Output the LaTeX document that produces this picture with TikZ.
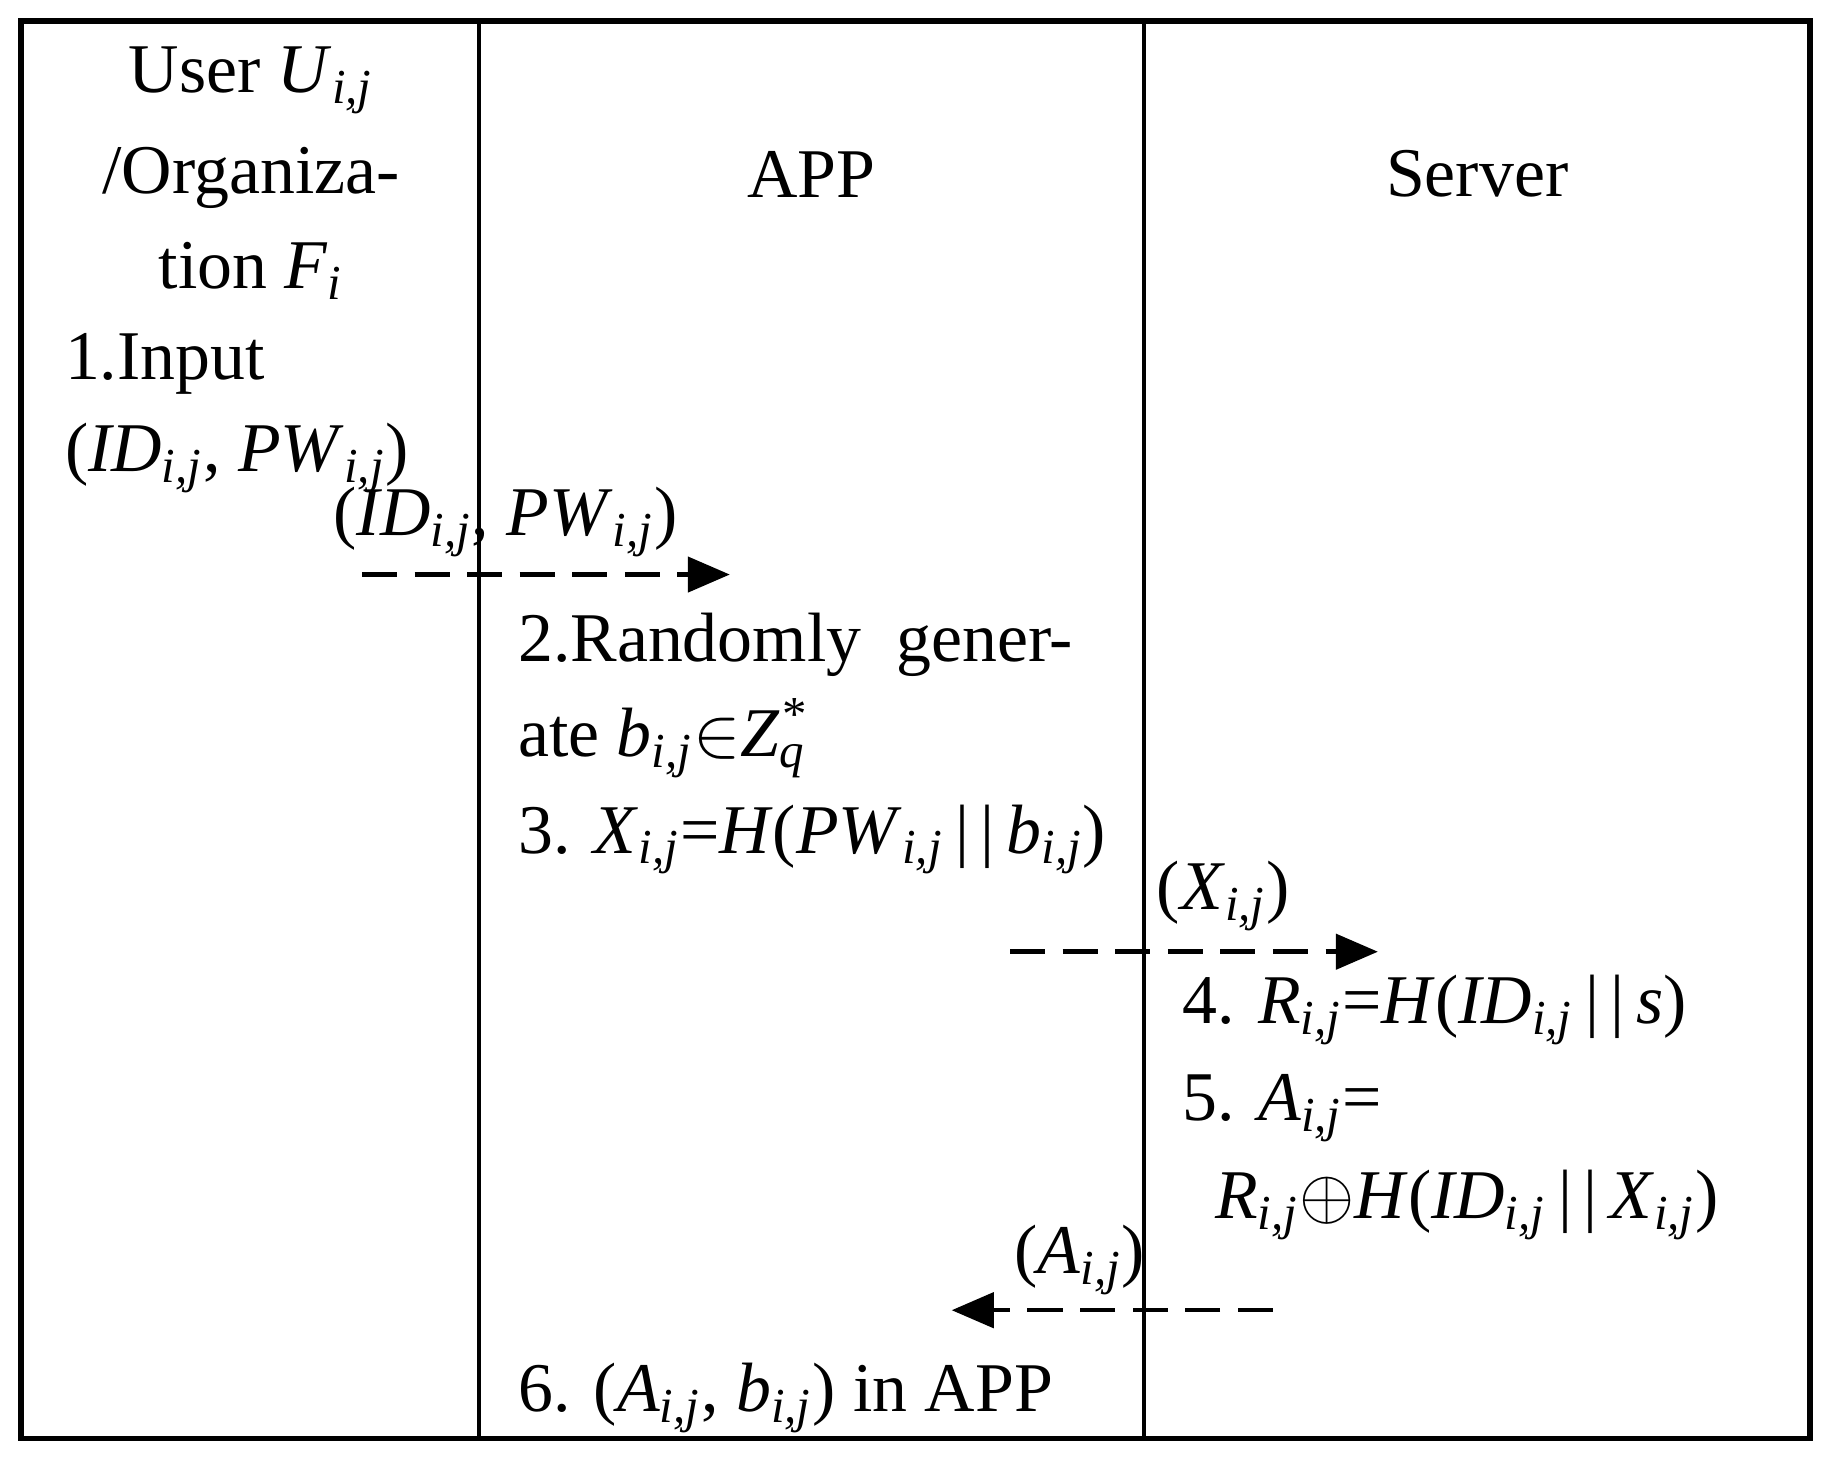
\documentclass[tikz,border=0pt]{standalone}
\usepackage{fontspec}
\setmainfont{Liberation Serif}
\usetikzlibrary{arrows.meta}
\newcommand{\sij}{\textsubscript{\textit{i,j}}}
\begin{document}
\begin{tikzpicture}[x=0.01cm,y=-0.01cm,
  txt/.style={anchor=west,inner sep=0pt,yshift=-0.07cm,font=\fontsize{17}{20}\selectfont},
  ctxt/.style={anchor=center,inner sep=0pt,yshift=-0.07cm,font=\fontsize{17}{20}\selectfont},
  msg/.style={dashed,line width=1.1pt,dash pattern=on 0.3cm off 0.15cm,-{Triangle[length=0.36cm,width=0.3cm]}}]
\useasboundingbox (0,0) rectangle (1568,1256);
\draw[line width=1.3pt] (18,18) rectangle (1550,1232);
\draw[line width=1pt] (410,18) -- (410,1232);
\draw[line width=1pt] (980,18) -- (980,1232);
\node[ctxt] (u1) at (215,62) {User \textit{U}\sij};
\node[ctxt] (u2) at (215,145) {/Organiza-};
\node[ctxt] (u3) at (215,225) {tion \textit{F}\textsubscript{\textit{i}}};
\node[ctxt] (app) at (695,142) {APP};
\node[ctxt] (srv) at (1265,142) {Server};
\node[txt] (s1) at (55,305) {1.Input};
\node[txt] (s1b) at (55,385) {(\textit{ID}\sij, \textit{PW}\sij)};
\node[txt] (m1) at (285,440) {(\textit{ID}\sij, \textit{PW}\sij)};
\coordinate (a1s) at (310,492); \coordinate (a1e) at (625,492);
\draw[msg] (a1s) -- (a1e);
\node[txt] (s2) at (443,545) {2.Randomly\ \ gener-};
\node[txt] (s2b) at (443,625) {ate \textit{b}\sij$\in$\textit{Z}\textsubscript{\textit{q}}\kern-0.35em\textsuperscript{*}};
\node[txt] (s3) at (443,712) {3. \textit{X}\sij=\textit{H}(\textit{PW}\sij\,|\,|\,\textit{b}\sij)};
\node[txt] (m2) at (990,760) {(\textit{X}\sij)};
\coordinate (a2s) at (865,815); \coordinate (a2e) at (1180,815);
\draw[msg] (a2s) -- (a2e);
\node[txt] (s4) at (1012,858) {4. \textit{R}\sij=\textit{H}(\textit{ID}\sij\,|\,|\,\textit{s})};
\node[txt] (s5) at (1012,942) {5. \textit{A}\sij=};
\node[txt] (s5b) at (1040,1025) {\textit{R}\sij$\oplus$\textit{H}(\textit{ID}\sij\,|\,|\,\textit{X}\sij)};
\node[txt] (m3) at (868,1072) {(\textit{A}\sij)};
\coordinate (a3s) at (1090,1122); \coordinate (a3e) at (815,1122);
\draw[msg] (a3s) -- (a3e);
\node[txt] (s6) at (443,1190) {6. (\textit{A}\sij, \textit{b}\sij) in APP};
\end{tikzpicture}
\end{document}
